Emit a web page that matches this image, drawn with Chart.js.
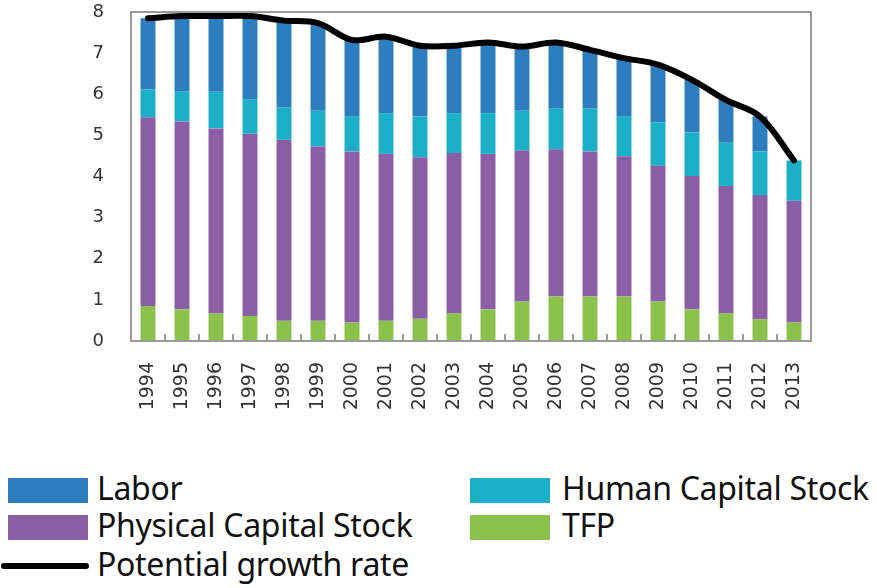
<!DOCTYPE html>
<html>
<head>
<meta charset="utf-8">
<script src="https://cdn.jsdelivr.net/npm/chart.js@4/dist/chart.umd.min.js"></script>
<style>
  body { margin: 0; background: #fff; width: 877px; height: 588px; overflow: hidden; position: relative; }
  #wrap { position: absolute; left: 0; top: 0; width: 877px; height: 440px; }
  .sw { position: absolute; width: 80px; height: 25px; }
  .lbl { position: absolute; font-family: "Noto Sans", sans-serif; font-size: 32px; color: #111; line-height: 1; white-space: nowrap; letter-spacing: -0.3px; }
</style>
</head>
<body>
<div id="wrap"><canvas id="chart"></canvas></div>

<div class="sw" style="left:8px;top:478px;background:#2e7dbf"></div>
<div class="lbl" style="left:97px;top:472px">Labor</div>
<div class="sw" style="left:8px;top:515px;background:#8a5fa6"></div>
<div class="lbl" style="left:97px;top:509px">Physical Capital Stock</div>
<div style="position:absolute;left:1px;top:563px;width:88px;height:6px;background:#000;border-radius:3px"></div>
<div class="lbl" style="left:97px;top:548px">Potential growth rate</div>
<div class="sw" style="left:470px;top:478px;background:#1cb0c8"></div>
<div class="lbl" style="left:562px;top:472px">Human Capital Stock</div>
<div class="sw" style="left:470px;top:515px;background:#8bc24c"></div>
<div class="lbl" style="left:562px;top:509px">TFP</div>

<script>
const years = ['1994','1995','1996','1997','1998','1999','2000','2001','2002','2003',
               '2004','2005','2006','2007','2008','2009','2010','2011','2012','2013'];
const tfp      = [0.85,0.77,0.67,0.61,0.49,0.49,0.45,0.49,0.54,0.67,0.77,0.96,1.08,1.08,1.08,0.96,0.77,0.67,0.53,0.45];
const physical = [4.59,4.57,4.50,4.43,4.40,4.24,4.16,4.06,3.93,3.90,3.78,3.67,3.58,3.53,3.41,3.30,3.24,3.10,3.02,2.96];
const human    = [0.68,0.72,0.89,0.84,0.79,0.87,0.86,0.99,0.99,0.97,0.99,0.97,0.99,1.04,0.98,1.05,1.06,1.05,1.06,0.98];
const labor    = [1.73,1.84,1.84,2.02,2.11,2.13,1.85,1.86,1.72,1.64,1.72,1.56,1.61,1.43,1.41,1.41,1.28,1.04,0.85,0.00];
const potential = [7.85,7.90,7.90,7.90,7.79,7.73,7.32,7.40,7.18,7.18,7.26,7.16,7.26,7.08,6.88,6.72,6.35,5.86,5.46,4.39];
const yTicks = [0,1,2,3,4,5,6,7,8];

const frame = {
  id: 'frame',
  afterDatasetsDraw(chart) {
    const { ctx, chartArea: a, scales: { x } } = chart;
    ctx.save();
    ctx.strokeStyle = '#9a9a9a';
    ctx.lineWidth = 2;
    ctx.beginPath();
    for (let i = 1; i < years.length; i++) {
      const px = Math.round(x.getPixelForValue(i - 0.5));
      ctx.moveTo(px, a.bottom);
      ctx.lineTo(px, a.bottom - 7);
    }
    ctx.stroke();
    ctx.strokeRect(a.left, a.top, a.right - a.left, a.bottom - a.top);
    ctx.restore();
  }
};

const bar = (label, data, color) => ({
  type: 'bar', label, data, backgroundColor: color, stack: 'bars', order: 1,
  barPercentage: 0.44, categoryPercentage: 1,
});

new Chart(document.getElementById('chart'), {
  data: {
    labels: years,
    datasets: [
      { type: 'line', label: 'Potential growth rate', data: potential, stack: 'line', order: 0,
        borderColor: '#000', borderWidth: 6, tension: 0.35, pointRadius: 0,
        borderCapStyle: 'round', borderJoinStyle: 'round', fill: false },
      bar('TFP', tfp, '#8bc24c'),
      bar('Physical Capital Stock', physical, '#8a5fa6'),
      bar('Human Capital Stock', human, '#1cb0c8'),
      bar('Labor', labor, '#2e7dbf'),
    ],
  },
  options: {
    responsive: true,
    maintainAspectRatio: false,
    animation: false,
    layout: { padding: { top: 12, right: 66, left: 0, bottom: 0 } },
    plugins: { legend: { display: false }, tooltip: { enabled: false } },
    scales: {
      x: {
        stacked: true,
        grid: { display: false, drawTicks: false },
        border: { display: false },
        ticks: { color: '#333', font: { family: 'DejaVu Sans', size: 19 }, minRotation: 90, maxRotation: 90, padding: 21, autoSkip: false },
        afterFit: s => { s.height = 99; s.paddingLeft = 0; s.paddingRight = 0; s.paddingTop = 0; s.paddingBottom = 0; },
      },
      y: {
        stacked: true,
        min: 0, max: 8,
        afterBuildTicks: s => { s.ticks = yTicks.map(v => ({ value: v })); },
        grid: { display: false, drawTicks: false },
        border: { display: false },
        ticks: { color: '#333', font: { family: 'DejaVu Sans', size: 18 }, padding: 27 },
        afterFit: s => { s.width = 131; s.paddingTop = 0; s.paddingBottom = 0; s.paddingLeft = 0; s.paddingRight = 0; },
      },
    },
  },
  plugins: [frame],
});
</script>
</body>
</html>
